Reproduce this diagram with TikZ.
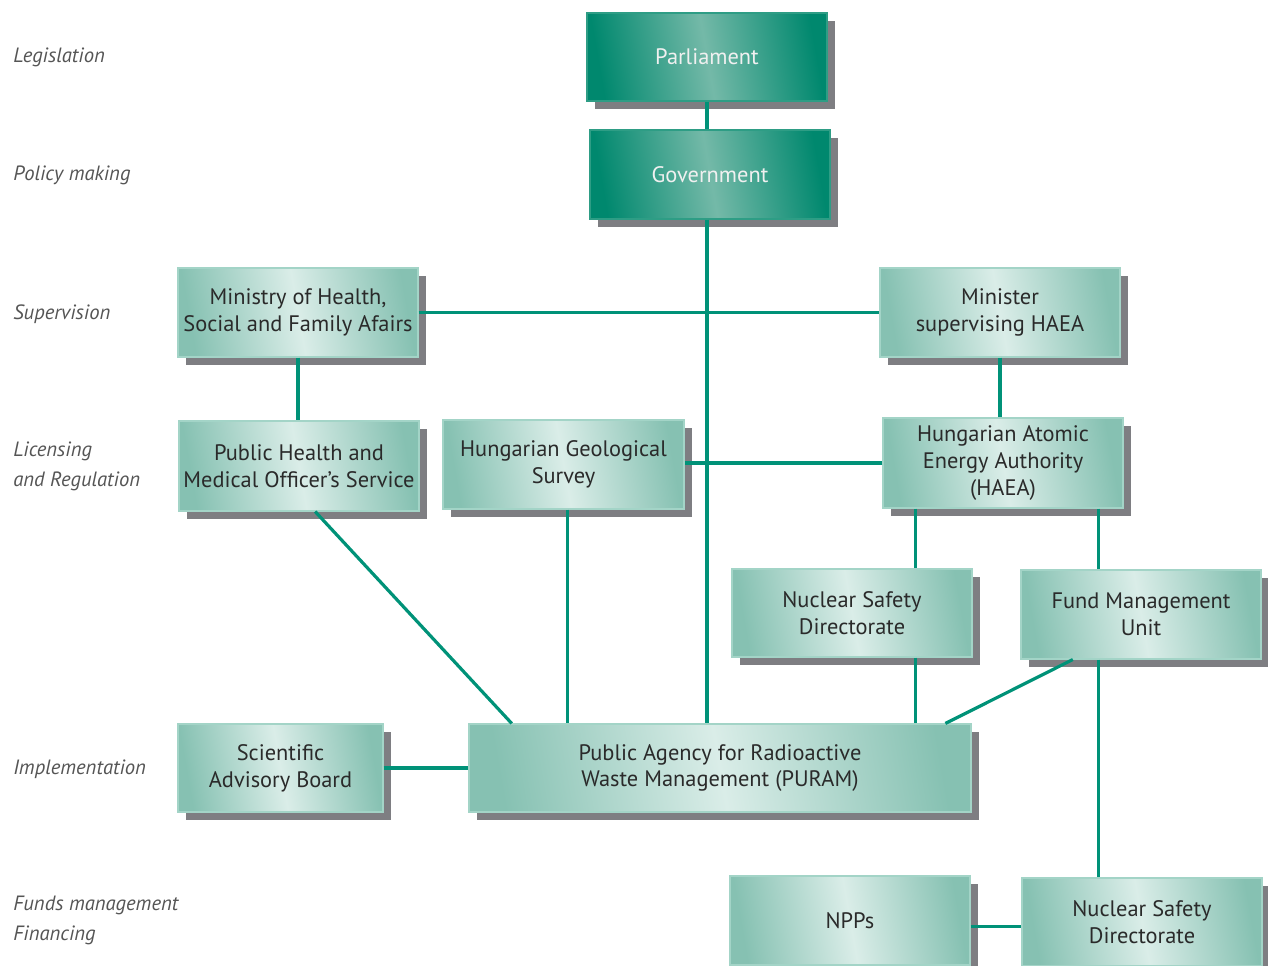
\documentclass[tikz,border=0pt]{standalone}
\usepackage{fontspec}
\setmainfont{PT Sans}
\usetikzlibrary{calc,shadows}
\definecolor{linec}{HTML}{009278}
\definecolor{darkedge}{HTML}{00886E}
\definecolor{darkmid}{HTML}{74B9A8}
\definecolor{lightedge}{HTML}{86C1B2}
\definecolor{lightmid}{HTML}{DAEDE8}
\definecolor{lightborder}{HTML}{A3D4C7}
\definecolor{darkborder}{HTML}{2E9D85}
\definecolor{shadowc}{HTML}{7E7E82}
\definecolor{labelc}{HTML}{555555}
\definecolor{textc}{HTML}{2A2A2A}
\tikzset{
  orgbase/.style={inner sep=0pt, align=center, font=\fontsize{16.8}{20}\selectfont,
    general shadow={fill=shadowc, shadow xshift=6pt, shadow yshift=-6pt}},
  topbox/.style={orgbase, draw=darkborder, line width=0.8pt, text=white!94!black,
    left color=darkedge, right color=darkedge, middle color=darkmid, shading angle=100},
  lightbox/.style={orgbase, draw=lightborder, line width=0.8pt, text=textc,
    left color=lightedge, right color=lightedge, middle color=lightmid, shading angle=100},
  conn/.style={draw=linec, line width=2.4pt},
  levellabel/.style={anchor=west, text=labelc, align=left, inner sep=0pt,
    font=\fontsize{15.5}{22.5}\selectfont\itshape}
}
\newcommand\orgbox[7]{\node[#1, anchor=center, minimum width={(#5-#3)*0.75pt}, minimum height={(#6-#4)*0.75pt}] (#2) at ({(#3+#5)/2},{(#4+#6)/2}) {#7};}
\begin{document}
\begin{tikzpicture}[x=0.75pt,y=-0.75pt]
\useasboundingbox (0,0) rectangle (1268,966);
% level labels
\node[levellabel] (l1) at (13,57) {Legislation};
\node[levellabel] (l2) at (13,175) {Policy making};
\node[levellabel] (l3) at (13,314) {Supervision};
\node[levellabel] (l4) at (13,466) {Licensing\\and Regulation};
\node[levellabel] (l5) at (13,769) {Implementation};
\node[levellabel] (l6) at (13,920) {Funds management\\Financing};
% boxes
\orgbox{topbox}{parl}{587}{13}{827}{101}{Parliament}
\orgbox{topbox}{gov}{590}{130}{830}{219}{Government}
\orgbox{lightbox}{min}{178}{268}{418}{357}{Ministry of Health,\\Social and Family Afairs}
\orgbox{lightbox}{minh}{880}{268}{1120}{357}{Minister\\supervising HAEA}
\orgbox{lightbox}{ph}{179}{421}{419}{511}{Public Health and\\Medical Officer’s Service}
\orgbox{lightbox}{geo}{443}{420}{684}{509}{Hungarian Geological\\Survey}
\orgbox{lightbox}{haea}{883}{418}{1123}{508}{Hungarian Atomic\\Energy Authority\\(HAEA)}
\orgbox{lightbox}{nsd}{732}{569}{972}{657}{Nuclear Safety\\Directorate}
\orgbox{lightbox}{fmu}{1021}{570}{1261}{659}{Fund Management\\Unit}
\orgbox{lightbox}{sab}{178}{724}{383}{812}{Scientific\\Advisory Board}
\orgbox{lightbox}{puram}{469}{724}{971}{812}{Public Agency for Radioactive\\Waste Management (PURAM)}
\orgbox{lightbox}{npp}{730}{876}{970}{965}{NPPs}
\orgbox{lightbox}{nsd2}{1022}{878}{1262}{966}{Nuclear Safety\\Directorate}
% connector anchors
\coordinate (hx1) at ($(haea.south west)!0.138!(haea.south east)$);
\coordinate (hx2) at ($(haea.south west)!0.896!(haea.south east)$);
\coordinate (phs) at ($(ph.south west)!0.567!(ph.south east)$);
\coordinate (pun1) at ($(puram.north west)!0.086!(puram.north east)$);
\coordinate (fms) at ($(fmu.south west)!0.217!(fmu.south east)$);
\coordinate (pun2) at ($(puram.north west)!0.948!(puram.north east)$);
\coordinate (geox) at ($(geo.south)+(4,0)$);
\coordinate (nppy) at ($(npp.east)+(0,6)$);
% connectors
\draw[conn] (parl.south) -- (gov.north -| parl.south);
\draw[conn] (gov.south -| parl.south) -- (puram.north -| parl.south);
\draw[conn] (min.east) -- (minh.west);
\draw[conn] (min.south) -- (ph.north -| min.south);
\draw[conn] (minh.south) -- (haea.north -| minh.south);
\draw[conn] (haea.west) -- (haea.west -| geo.east);
\draw[conn] (phs) -- (pun1);
\draw[conn] (geox) -- (puram.north -| geox);
\draw[conn] (hx1) -- (nsd.north -| hx1);
\draw[conn] (nsd.south -| hx1) -- (puram.north -| hx1);
\draw[conn] (hx2) -- (fmu.north -| hx2);
\draw[conn] (fms) -- (pun2);
\draw[conn] (fmu.south -| hx2) -- (nsd2.north -| hx2);
\draw[conn] (sab.east) -- (puram.west);
\draw[conn] (nppy) -- (nsd2.west |- nppy);
\end{tikzpicture}
\end{document}
